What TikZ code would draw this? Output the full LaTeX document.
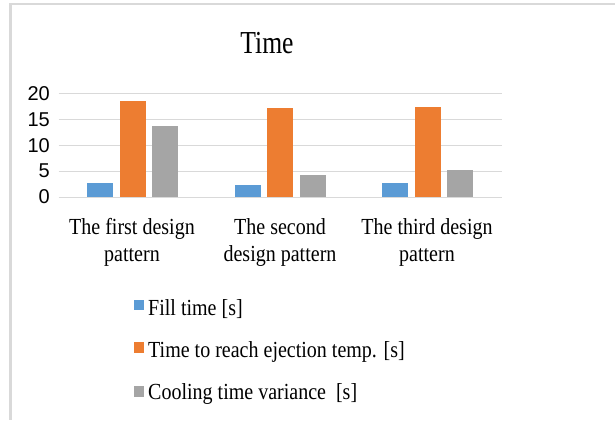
\documentclass[tikz,border=0pt]{standalone}
\usepackage{fontspec}
\setmainfont{Liberation Serif}
\newfontfamily\axisfont{Liberation Sans}
\newfontfamily\labelfont[FakeStretch=0.87]{Liberation Serif}
\newfontfamily\titlefont[FakeStretch=0.8]{Liberation Serif}
\definecolor{fillblue}{HTML}{5B9BD5}
\definecolor{ejectorange}{HTML}{ED7D31}
\definecolor{coolgray}{HTML}{A5A5A5}
\definecolor{gridgray}{HTML}{D9D9D9}
\definecolor{framegray}{HTML}{D9D9D9}
\tikzset{
  gridline/.style={draw=gridgray, line width=1pt},
  ticklabel/.style={font=\axisfont\fontsize{20}{22}\selectfont, anchor=east, inner sep=0pt},
  catlabel/.style={font=\labelfont\fontsize{23}{27}\selectfont, align=center, anchor=base, inner sep=0pt},
  legendlabel/.style={font=\labelfont\fontsize{23}{27}\selectfont, anchor=base west, inner sep=0pt},
  titlelabel/.style={font=\titlefont\fontsize{32}{36}\selectfont, anchor=base, inner sep=0pt},
}
\begin{document}
\begin{tikzpicture}[x=1pt, y=-1pt]
  \useasboundingbox (0,0) rectangle (615,420);
  \fill[white] (0,0) rectangle (615,420);
  % chart frame (top and left edges)
  \fill[framegray] (9,3) rectangle (615,5);
  \fill[framegray] (9,3) rectangle (12,420);

  % title
  \node[titlelabel] (title) at (267,53.3) {Time};

  % gridlines and value axis labels
  \foreach \v in {0,5,10,15,20} {
    \draw[gridline] (58.7,{197-\v*5.185}) -- (501.7,{197-\v*5.185});
    \node[ticklabel] (tick\v) at (50,{197-\v*5.185}) {\v};
  }

  % bars: group centre, fill time, time to ejection temp., cooling variance
  \foreach \c/\a/\b/\g [count=\i] in {132.8/2.7/18.5/13.7, 280.2/2.3/17.2/4.2, 427.6/2.7/17.4/5.2} {
    \fill[fillblue]    ({\c-32.5-13},197) rectangle ({\c-32.5+13},{197-\a*5.185});
    \fill[ejectorange] ({\c-13},197)      rectangle ({\c+13},{197-\b*5.185});
    \fill[coolgray]    ({\c+32.5-13},197) rectangle ({\c+32.5+13},{197-\g*5.185});
  }

  % category labels (base anchor sits on the second line)
  \node[catlabel] (cat1) at (132,261.7) {The first design\\pattern};
  \node[catlabel] (cat2) at (280,261.7) {The second\\design pattern};
  \node[catlabel] (cat3) at (427,261.7) {The third design\\pattern};

  % legend
  \fill[fillblue]    (134.3,299.5) rectangle (144,310);
  \node[legendlabel] (leg1) at (148,315) {Fill time [s]};
  \fill[ejectorange] (134.3,341.7) rectangle (144,352.5);
  \node[legendlabel] (leg2) at (148,357) {Time to reach ejection temp. [s]};
  \fill[coolgray]    (134.3,385.7) rectangle (144,396.5);
  \node[legendlabel] (leg3) at (148,399) {Cooling time variance~~[s]};
\end{tikzpicture}
\end{document}
